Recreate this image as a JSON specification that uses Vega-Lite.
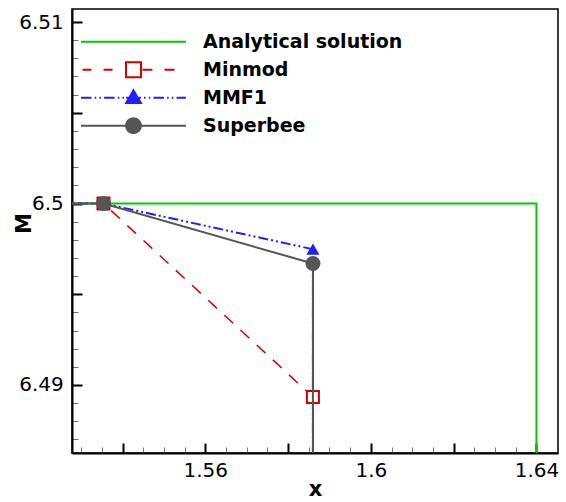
{
  "$schema": "https://vega.github.io/schema/vega-lite/v6.json",
  "width": 486,
  "height": 444,
  "autosize": "none",
  "padding": {"left": 72, "top": 9, "right": 8, "bottom": 49},
  "background": "white",
  "config": {"view": {"stroke": "#000", "strokeWidth": 1.5}, "font": "DejaVu Sans"},
  "data": {"values": [
    {"series": "Analytical solution", "i": 1, "x": 1.4848, "y": 6.5},
    {"series": "Analytical solution", "i": 2, "x": 1.64, "y": 6.5},
    {"series": "Analytical solution", "i": 3, "x": 1.64, "y": 6.3},
    {"series": "Minmod", "i": 1, "x": 1.4848, "y": 6.5},
    {"series": "Minmod", "i": 2, "x": 1.5354, "y": 6.5},
    {"series": "Minmod", "i": 3, "x": 1.586, "y": 6.48934},
    {"series": "Minmod", "i": 4, "x": 1.586, "y": 6.3},
    {"series": "MMF1", "i": 1, "x": 1.4848, "y": 6.5},
    {"series": "MMF1", "i": 2, "x": 1.5354, "y": 6.5},
    {"series": "MMF1", "i": 3, "x": 1.586, "y": 6.49748},
    {"series": "MMF1", "i": 4, "x": 1.586, "y": 6.3},
    {"series": "Superbee", "i": 1, "x": 1.4848, "y": 6.5},
    {"series": "Superbee", "i": 2, "x": 1.5354, "y": 6.5},
    {"series": "Superbee", "i": 3, "x": 1.586, "y": 6.49669},
    {"series": "Superbee", "i": 4, "x": 1.586, "y": 6.3}
  ]},
  "encoding": {
    "x": {
      "field": "x", "type": "quantitative",
      "scale": {"domain": [1.5278, 1.6452], "nice": false, "zero": false},
      "axis": {
        "title": "x",
        "values": [1.53, 1.535, 1.54, 1.545, 1.55, 1.555, 1.56, 1.565, 1.57, 1.575, 1.58, 1.585, 1.59, 1.595, 1.6, 1.605, 1.61, 1.615, 1.62, 1.625, 1.63, 1.635, 1.64],
        "labelExpr": "abs(datum.value-1.56)<0.001 ? '1.56' : abs(datum.value-1.6)<0.001 ? '1.6' : abs(datum.value-1.64)<0.001 ? '1.64' : ''",
        "tickSize": {"condition": {"test": "abs(datum.value*50 - round(datum.value*50)) < 0.01", "value": -10}, "value": -6},
        "tickColor": {"condition": {"test": "abs(datum.value*50 - round(datum.value*50)) < 0.01", "value": "#000"}, "value": "#777"},
        "tickWidth": {"condition": {"test": "abs(datum.value*50 - round(datum.value*50)) < 0.01", "value": 2}, "value": 1},
        "domainColor": "#000", "domainWidth": 2,
        "labelFont": "DejaVu Sans", "labelFontSize": 20, "labelColor": "#000", "labelPadding": 17,
        "labelOverlap": false, "labelFlush": false, "labelBound": false, "grid": false,
        "titleFont": "DejaVu Sans", "titleFontSize": 21, "titleFontWeight": "bold", "titleColor": "#000",
        "titleBaseline": "alphabetic", "titleY": 42
      }
    },
    "y": {
      "field": "y", "type": "quantitative",
      "scale": {"domain": [6.48625, 6.51072], "nice": false, "zero": false},
      "axis": {
        "title": "M",
        "values": [6.487, 6.488, 6.489, 6.49, 6.491, 6.492, 6.493, 6.494, 6.495, 6.496, 6.497, 6.498, 6.499, 6.5, 6.501, 6.502, 6.503, 6.504, 6.505, 6.506, 6.507, 6.508, 6.509, 6.51],
        "labelExpr": "abs(datum.value-6.49)<0.0003 ? '6.49' : abs(datum.value-6.5)<0.0003 ? '6.5' : abs(datum.value-6.51)<0.0003 ? '6.51' : ''",
        "tickSize": {"condition": {"test": "abs(datum.value*200 - round(datum.value*200)) < 0.01", "value": -10}, "value": -6},
        "tickColor": {"condition": {"test": "abs(datum.value*200 - round(datum.value*200)) < 0.01", "value": "#000"}, "value": "#777"},
        "tickWidth": {"condition": {"test": "abs(datum.value*200 - round(datum.value*200)) < 0.01", "value": 2}, "value": 1},
        "domainColor": "#000", "domainWidth": 2,
        "labelFont": "DejaVu Sans", "labelFontSize": 20, "labelColor": "#000", "labelPadding": 18.7,
        "labelOverlap": false, "labelFlush": false, "labelBound": false, "grid": false,
        "titleFont": "DejaVu Sans", "titleFontSize": 21, "titleFontWeight": "bold", "titleColor": "#000",
        "titlePadding": -16, "titleY": 214
      }
    },
    "order": {"field": "i", "type": "quantitative"}
  },
  "layer": [
    {
      "transform": [{"filter": "datum.series === 'Analytical solution'"}],
      "mark": {"type": "line", "strokeWidth": 2, "clip": true},
      "encoding": {
        "color": {
          "field": "series", "type": "nominal",
          "scale": {"domain": ["Analytical solution", "Minmod", "MMF1", "Superbee"], "range": ["#00cc00", "#d40000", "#2020ff", "#555555"]},
          "legend": {
            "orient": "none", "legendX": 8, "legendY": 18.7, "title": null,
            "symbolSize": 11025, "clipHeight": 28, "rowPadding": 0, "padding": 0,
            "symbolStrokeWidth": 2,
            "labelFont": "DejaVu Sans", "labelFontSize": 19, "labelFontWeight": "bold", "labelColor": "#000",
            "labelOffset": 16, "labelLimit": 400,
            "encode": {
              "symbols": {
                "update": {
                  "shape": {"signal": "datum.value === 'Minmod' ? 'M-0.97,0L-0.8,0M-0.57,0L-0.4,0M0.17,0L0.36,0M0.59,0L0.78,0M-0.143,-0.143L0.143,-0.143L0.143,0.143L-0.143,0.143Z' : datum.value === 'MMF1' ? 'M-1,0L-0.8,0M-0.74,0L-0.71,0M-0.65,0L-0.62,0M-0.56,0L-0.36,0M-0.3,0L-0.27,0M-0.21,0L-0.18,0M-0.14,0L0.14,0M0.2,0L0.23,0M0.29,0L0.32,0M0.38,0L0.58,0M0.64,0L0.67,0M0.73,0L0.76,0M0.82,0L1,0M0,-0.14L0.14,0.1L-0.14,0.1Z' : datum.value === 'Superbee' ? 'M-1,0L1,0M0.14,0C0.14,0.0773,0.0773,0.14,0,0.14C-0.0773,0.14,-0.14,0.0773,-0.14,0C-0.14,-0.0773,-0.0773,-0.14,0,-0.14C0.0773,-0.14,0.14,-0.0773,0.14,0Z' : 'M-1,0L1,0'"},
                  "fill": {"signal": "datum.value === 'Minmod' ? '#ffffff' : datum.value === 'MMF1' ? '#2020ff' : datum.value === 'Superbee' ? '#555555' : 'transparent'"},
                  "strokeDash": {"value": [1, 0]},
                  "strokeWidth": {"value": 2},
                  "opacity": {"value": 1}
                }
              }
            }
          }
        }
      }
    },
    {
      "transform": [{"filter": "datum.series === 'Minmod'"}],
      "mark": {"type": "line", "strokeWidth": 1.5, "strokeDash": [12, 10], "color": "#d40000", "clip": true}
    },
    {
      "transform": [{"filter": "datum.series === 'Minmod'"}],
      "mark": {"type": "point", "shape": "square", "size": 144, "filled": true, "fill": "#ffffff", "stroke": "#d40000", "strokeWidth": 2, "opacity": 1, "clip": true}
    },
    {
      "transform": [{"filter": "datum.series === 'MMF1'"}],
      "mark": {"type": "line", "strokeWidth": 2, "strokeDash": [10, 3, 2, 3, 2, 3], "color": "#2020ff", "clip": true}
    },
    {
      "transform": [{"filter": "datum.series === 'MMF1'"}],
      "mark": {"type": "point", "shape": "triangle-up", "size": 169, "filled": true, "color": "#2020ff", "opacity": 1, "clip": true}
    },
    {
      "transform": [{"filter": "datum.series === 'Superbee'"}],
      "mark": {"type": "line", "strokeWidth": 2, "color": "#555555", "clip": true}
    },
    {
      "transform": [{"filter": "datum.series === 'Superbee'"}],
      "mark": {"type": "point", "shape": "circle", "size": 225, "filled": true, "color": "#555555", "opacity": 1, "clip": true}
    }
  ]
}
